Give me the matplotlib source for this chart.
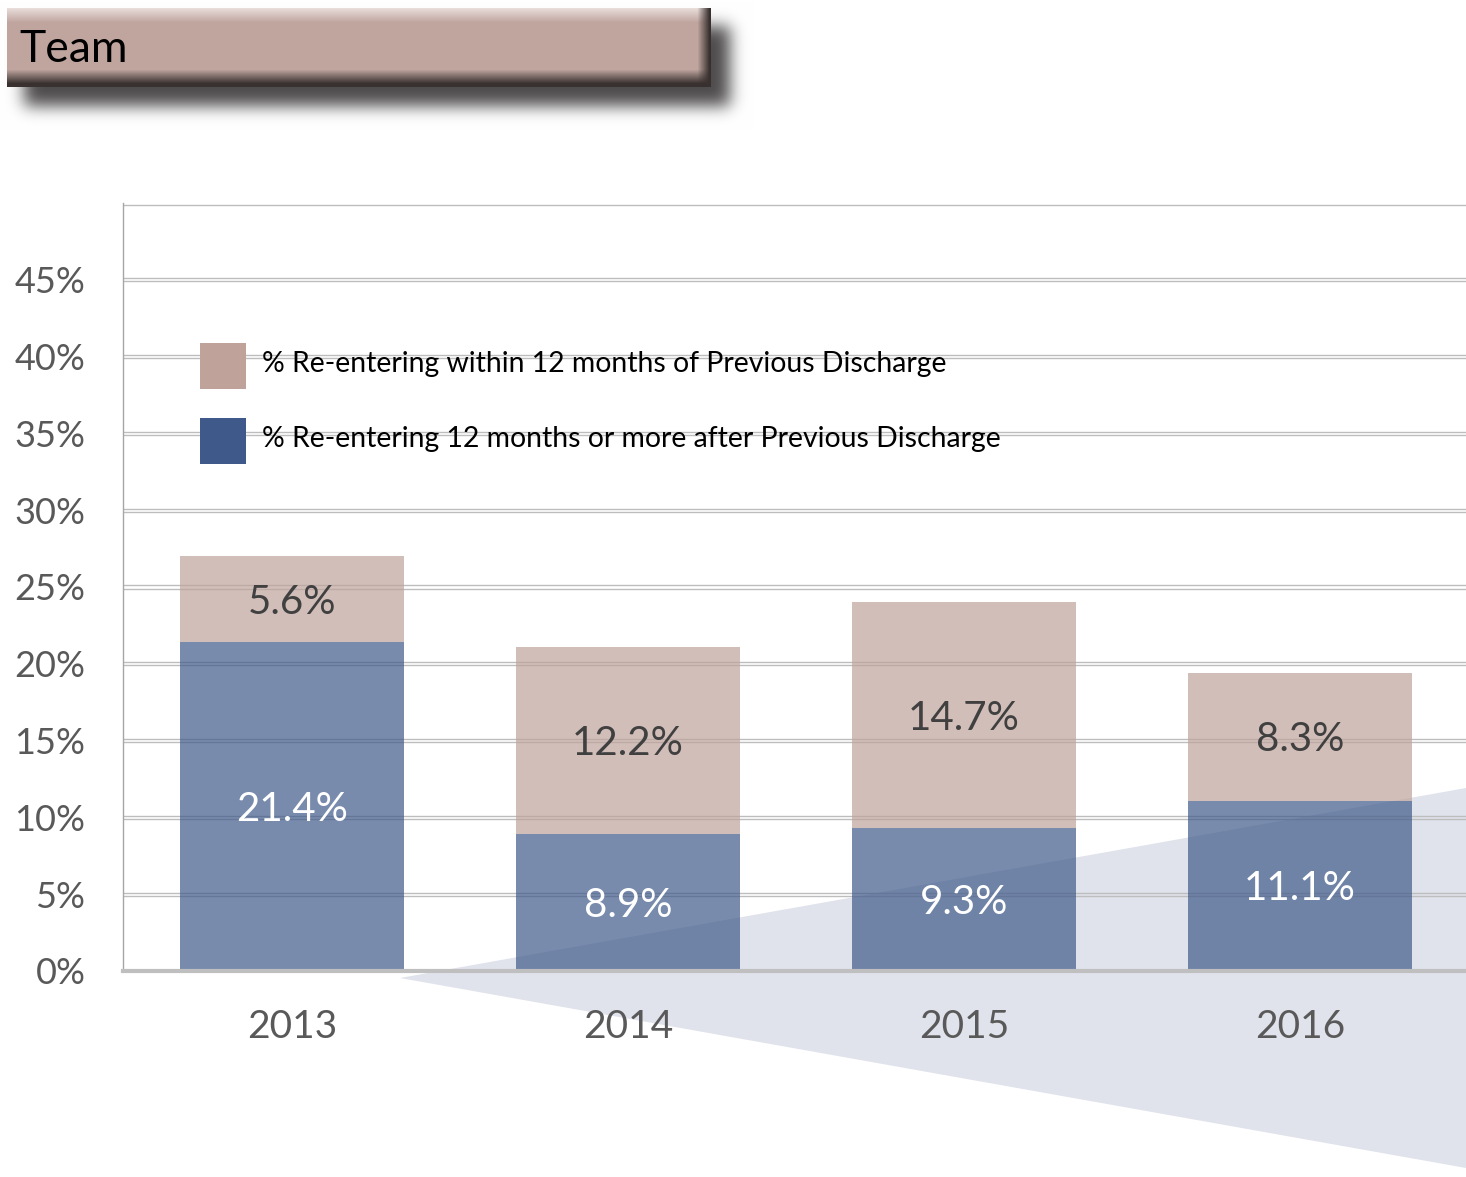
import numpy as np
import matplotlib
matplotlib.use("Agg")
import matplotlib.pyplot as plt
from matplotlib.patches import Polygon, Rectangle

# ---- data ----
years = ["2013", "2014", "2015", "2016"]
within_12 = [5.6, 12.2, 14.7, 8.3]          # tan (top segment)
after_12 = [21.4, 8.9, 9.3, 11.1]           # blue (bottom segment)
yticks = [0, 5, 10, 15, 20, 25, 30, 35, 40, 45]
ytick_labels = [f"{v}%" for v in yticks]
legend_labels = ["% Re-entering within 12 months of Previous Discharge",
                 "% Re-entering 12 months or more after Previous Discharge"]
title = "Team"

W, H = 1466, 1177
plt.rcParams['font.family'] = ['Lato', 'DejaVu Sans']
fig = plt.figure(figsize=(W / 100, H / 100), dpi=100)
fig.patch.set_facecolor("white")

BLUE = "#3F5A8A"
TAN = "#BFA39B"
TRI = "#E0E3EC"

# ---- title box image (bevel + drop shadow) ----
bh, bw = 140, 760
yy, xx = np.mgrid[0:bh, 0:bw]
def rect_mask(x0, x1, y0, y1):
    return ((xx >= x0) & (xx < x1) & (yy >= y0) & (yy < y1)).astype(float)

def blur(a, sigma):
    r = int(3 * sigma)
    k = np.exp(-0.5 * (np.arange(-r, r + 1) / sigma) ** 2)
    k /= k.sum()
    a = np.apply_along_axis(lambda m: np.convolve(m, k, mode="same"), 0, a)
    a = np.apply_along_axis(lambda m: np.convolve(m, k, mode="same"), 1, a)
    return a

img = np.ones((bh, bw, 3))
shadow = blur(rect_mask(24, 730, 26, 106), 8.0) * 0.85
sc = np.array([0.18, 0.17, 0.17])
img = img * (1 - shadow[..., None]) + sc * shadow[..., None]

bx0, bx1, by0, by1 = 7, 711, 8, 87
base = np.array([192, 165, 159]) / 255
light = np.array([232, 220, 217]) / 255
dark = np.array([56, 49, 47]) / 255
box = np.zeros((bh, bw, 3)) + base
t = np.clip((yy - by0) / 14.0, 0, 1)[..., None]
box = np.where((yy < by0 + 14)[..., None], light * (1 - t) + base * t, box)
t = np.clip((yy - (by1 - 18)) / 14.0, 0, 1)[..., None]
box = np.where((yy >= by1 - 18)[..., None], base * (1 - t) + dark * t, box)
t = np.clip((xx - (bx1 - 14)) / 12.0, 0, 1)[..., None]
rb = (xx >= bx1 - 14)[..., None]
box = np.where(rb, box * (1 - t) + dark * t, box)
m = rect_mask(bx0, bx1, by0, by1)[..., None]
img = img * (1 - m) + box * m
fig.figimage(img, xo=0, yo=H - bh, origin="upper", zorder=0)
fig.text(19 / W, 1 - 50 / H, title, fontsize=32, color="black",
         va="center", ha="left", zorder=5)

# ---- axes ----
ax = fig.add_axes([123 / W, 1 - 971 / H, (W - 123) / W, (971 - 203) / H])
ax.set_facecolor("none")
x = np.arange(len(years))
ax.set_xlim(-0.503, 3.494)
ax.set_ylim(0, 50)

# decorative triangle
tri_px = [(400, 978), (1466, 788), (1466, 1168)]
tri = Polygon([(px / W, 1 - py / H) for px, py in tri_px], closed=True,
              transform=fig.transFigure, facecolor=TRI, edgecolor="none",
              clip_on=False, zorder=0.5)
ax.add_patch(tri)

# double gridlines
for v in yticks[1:] + [50]:
    for d in (-0.1, 0.1):
        ax.axhline(v + d, color="#BDBDBD", lw=1.0, zorder=1)

bw_ = 0.667
ax.bar(x, after_12, width=bw_, color=BLUE, alpha=0.7, lw=0, zorder=3)
ax.bar(x, within_12, bottom=after_12, width=bw_, color=TAN, alpha=0.7, lw=0, zorder=3)

for i in range(len(years)):
    ax.text(x[i], after_12[i] / 2 - 0.2, f"{after_12[i]}%", ha="center", va="center",
            fontsize=29, color="white", zorder=4)
    ax.text(x[i], after_12[i] + within_12[i] / 2 - 0.2, f"{within_12[i]}%", ha="center",
            va="center", fontsize=29, color="#404040", zorder=4)

ax.set_yticks(yticks)
ax.set_yticklabels(ytick_labels)
ax.set_xticks(x)
ax.set_xticklabels(years)
ax.tick_params(axis="y", length=0, pad=27, labelsize=26, labelcolor="#595959")
ax.tick_params(axis="x", length=0, pad=27, labelsize=28, labelcolor="#595959")

for s in ("top", "right"):
    ax.spines[s].set_visible(False)
ax.spines["left"].set_color("#A6A6A6")
ax.spines["left"].set_linewidth(1.0)
ax.spines["bottom"].set_color("#BFBFBF")
ax.spines["bottom"].set_linewidth(3.0)
ax.spines["bottom"].set_zorder(5)

# legend (manual, in figure pixels)
leg_colors = [TAN, BLUE]
leg_y = [366, 441]
for c, yc, lab in zip(leg_colors, leg_y, legend_labels):
    fig.add_artist(Rectangle((200 / W, 1 - (yc + 23) / H), 46 / W, 46 / H,
                             transform=fig.transFigure, facecolor=c,
                             edgecolor="none", zorder=6))
    fig.text(262 / W, 1 - (yc - 2) / H, lab, fontsize=20.4, color="black",
             va="center", ha="left", zorder=6)

fig.savefig("out.png", dpi=100)
